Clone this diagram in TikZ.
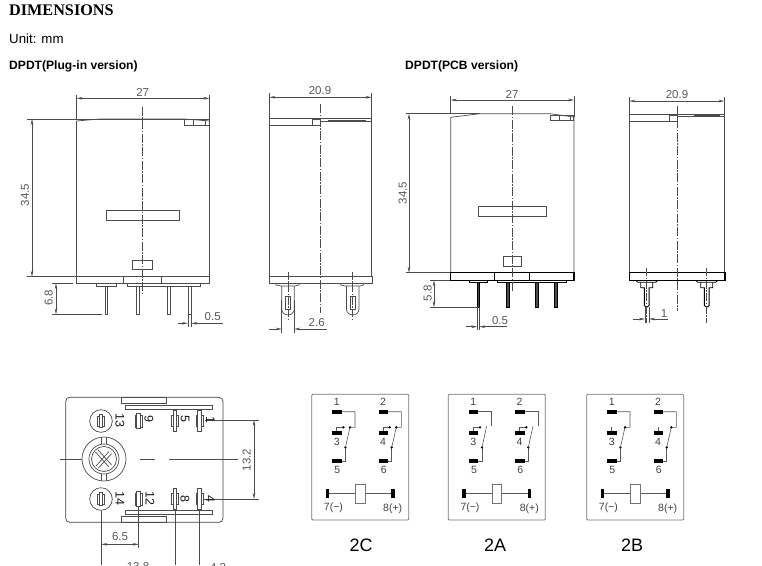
\documentclass[tikz,border=0pt]{standalone}
\usepackage{fontspec}
\setmainfont{Liberation Sans}
\newfontfamily\titlefont{Liberation Serif}
\usetikzlibrary{arrows.meta}
\definecolor{inkline}{gray}{0.3}
\definecolor{dimtext}{gray}{0.35}
\tikzset{
  outline/.style={draw=inkline,line width=0.7pt},
  thickline/.style={draw=black,line width=1.3pt},
  axis/.style={draw=inkline,line width=0.5pt,dash pattern=on 9pt off 1.5pt on 1.5pt off 1.5pt},
  thin line/.style={draw=inkline,line width=0.5pt},
  dimline/.style={draw=black!70,line width=0.6pt,{Stealth[length=6pt,width=2.6pt]}-{Stealth[length=6pt,width=2.6pt]}},
  dimtip/.style={draw=black!70,line width=0.6pt,-{Stealth[length=6pt,width=2.6pt]}},
  dimlabel/.style={text=dimtext,font=\fontsize{11.5}{12}\selectfont,inner sep=0pt},
  termlabel/.style={text=black!90,font=\fontsize{12.5}{13}\selectfont,inner sep=0pt,rotate=-90},
  relaylabel/.style={text=black!75,font=\fontsize{10.5}{11}\selectfont,inner sep=0pt},
  heading/.style={anchor=west,inner sep=0pt,font=\fontsize{12.1}{14}\selectfont\bfseries},
  typelabel/.style={inner sep=0pt,font=\fontsize{18}{20}\selectfont},
  pad/.style={fill=black,draw=none},
  wire/.style={draw=black!65,line width=0.6pt},
  pics/relay/.style={code={
    % #1: 0 = 2C, 1 = 2A, 2 = 2B
    \path[draw=black!55,line width=0.8pt,rounded corners=1pt] (0,0) rectangle (97,125.7);
    \foreach \dx/\top/\mid/\low in {0/1/3/5,46.3/2/4/6}{
      \begin{scope}[xshift=\dx pt]
        \fill[pad] (20.7,15.4) rectangle (30,19.4);
        \fill[pad] (20.7,36.7) rectangle (30,40.7);
        \fill[pad] (20.7,64.7) rectangle (30,68.7);
        \node[relaylabel] at (25,7.3) {\top};
        \node[relaylabel] at (25,48) {\mid};
        \node[relaylabel] at (25.7,75.7) {\low};
        \draw[wire] (33.7,53) -- (33.7,66.7) -- (30,66.7);
        \fill (33.7,53) circle (1.3);
        \ifcase#1
          \draw[wire] (30,17.4) -- (43.3,17.4) -- (43.3,33) -- (38.3,33) -- (33.7,53);
          \draw[wire] (25,36.7) -- (25,33) -- (31.7,33);
          \fill (38.3,33) circle (1.3);
          \fill (31.7,33) circle (1.3);
        \or
          \draw[wire] (30,17.4) -- (43.3,17.4) -- (43.3,32);
          \draw[wire] (38.3,32) -- (33.7,53);
          \draw[wire] (25,36.7) -- (25,33) -- (31.7,33);
          \fill (31.7,33) circle (1.3);
        \or
          \draw[wire] (30,17.4) -- (43.3,17.4) -- (43.3,33) -- (38.3,33) -- (33.7,53);
          \draw[wire] (25,36.7) -- (25,33);
          \fill (38.3,33) circle (1.3);
        \fi
      \end{scope}
    }
    \fill[pad] (14,95) rectangle (17.7,104);
    \fill[pad] (79.3,95) rectangle (83,104);
    \draw[wire] (17.7,99.3) -- (43.7,99.3);
    \draw[wire] (53.3,99.3) -- (79.3,99.3);
    \draw[draw=black!55,line width=0.7pt] (43.7,90) rectangle (53.3,109.3);
    \node[relaylabel] at (21.7,113.3) {7(−)};
    \node[relaylabel] at (81,114.7) {8(+)};
  }},
  pics/blade/.style n args={2}{code={
    % #1: half length of the thin strip, #2: half height of the wide strip
    \draw[thin line,fill=white] (-3.5,-#2) rectangle (3.5,#2);
    \draw[thin line,fill=white] (-1.6,-#1) rectangle (1.6,#1);
  }},
}
\begin{document}
\begin{tikzpicture}[x=1pt,y=-1pt]
  \useasboundingbox (0,0) rectangle (762,565);
  \begin{scope}
    \clip (0,0) rectangle (762,565);
    % headings
    \node[anchor=west,inner sep=0pt,font=\fontsize{16.2}{17}\titlefont\bfseries] (title) at (9,10) {DIMENSIONS};
    \node[anchor=west,inner sep=0pt,font=\fontsize{13.3}{14}\selectfont] (unit) at (9,38.5) {Unit: mm};
    \node[heading] (plugin) at (9,66) {DPDT(Plug-in version)};
    \node[heading] (pcb) at (405,66) {DPDT(PCB version)};

    % plug-in, front
    \draw[outline] (76.5,276.7) -- (76.5,121) -- (100,119) -- (185,119) -- (209.5,121) -- (209.5,276.7);
    \draw[outline] (76.5,119) -- (185,119);
    \draw[outline] (184.7,119.5) rectangle (209.5,125.3);
    \draw[outline] (193.7,120) -- (193.7,125.3) (205.3,120) -- (205.3,125.3);
    \draw[outline] (76.5,276.7) rectangle (209.5,283.3);
    \draw[outline] (123.3,276.7) -- (123.3,283.3) (161.7,276.7) -- (161.7,283.3);
    \draw[outline] (96.7,283.3) rectangle (116.7,286.3);
    \draw[outline] (127.3,283.3) rectangle (200.7,286.3);
    \foreach \xa/\xb in {105.3/107.3,136.7/139.3,167.7/170.3}
      \draw[outline] (\xa,286.3) rectangle (\xb,314.3);
    \draw[outline] (188,286.3) rectangle (191.3,314.3);
    \draw[thin line] (188,314.3) -- (188,326.5) (191.3,314.3) -- (191.3,326.5);
    \draw[outline] (106,210.7) rectangle (179.7,220.3);
    \draw[outline] (132.7,260.3) rectangle (152.7,269.7);
    \draw[axis] (142.7,106.7) -- (142.7,294.7);
    \draw[thin line] (76.5,94.7) -- (76.5,119) (209.5,94.7) -- (209.5,119);
    \draw[dimline] (76.5,98.3) -- (209.5,98.3);
    \node[dimlabel] (w27a) at (142.7,92) {27};
    \draw[thin line] (27.3,119) -- (76.5,119) (27.3,276.7) -- (76.5,276.7);
    \draw[dimline] (32,119) -- (32,276.7);
    \node[dimlabel,rotate=90] (h345a) at (25,195) {34.5};
    \draw[thin line] (51.7,283.3) -- (72.7,283.3) (51.7,314.3) -- (101.7,314.3);
    \draw[dimline] (56,283.3) -- (56,314.3);
    \node[dimlabel,rotate=90] (h68) at (48.7,298) {6.8};
    \draw[dimtip] (177.7,323.3) -- (188,323.3);
    \draw[dimtip] (222.7,323.3) -- (191.3,323.3);
    \node[dimlabel] (p05a) at (212.7,317) {0.5};

    % plug-in, side
    \draw[outline] (269.3,118.7) rectangle (371.7,276.7);
    \draw[outline] (269.3,125.3) -- (320,125.3);
    \draw[outline] (312.7,119.5) rectangle (320,125.3);
    \draw[outline] (320,121) -- (371.7,121);
    \draw[draw=inkline,line width=1pt] (328,120) -- (366,120);
    \draw[outline] (269.3,276.7) rectangle (372.3,283.3);
    \foreach \cx in {288,352.7}{
      \draw[outline] (\cx-12,283.3) -- (\cx-12,285) -- (\cx-7,286) -- (\cx+7,286) -- (\cx+11,285) -- (\cx+11,283.3);
      \draw[outline] (\cx-6.3,286) -- (\cx-6.3,309) arc[start angle=180,end angle=0,x radius=6.3,y radius=6] -- (\cx+6.3,286);
      \draw[outline] (\cx-2.8,296) rectangle (\cx+2.8,309.3);
      \draw[axis,dash pattern=on 8pt off 1.5pt on 1.5pt off 1.5pt] (\cx,271.7) -- (\cx,319.3);
    }
    \draw[axis] (320,104) -- (320,313);
    \draw[thin line] (269.3,93.3) -- (269.3,118.7) (371.7,93.3) -- (371.7,118.7);
    \draw[dimline] (269.3,97.3) -- (371.7,97.3);
    \node[dimlabel] (w209a) at (320,91) {20.9};
    \draw[thin line] (281.7,300) -- (281.7,332.7) (294.3,300) -- (294.3,332.7);
    \draw[dimtip] (269.3,329) -- (281.7,329);
    \draw[dimtip] (326.7,329) -- (294.3,329);
    \node[dimlabel] (p26) at (316.7,323) {2.6};

    % pcb, front
    \draw[outline] (450.7,272.7) -- (450.7,117.3) -- (480,113.7) -- (550,113.7) -- (574,117) -- (574,272.7);
    \draw[thin line] (405.7,113.7) -- (480,113.7) (405.7,272.7) -- (450.7,272.7);
    \draw[outline] (550.3,115) rectangle (573.3,120.7);
    \draw[outline] (559.3,115) -- (559.3,120.7) (570.3,115) -- (570.3,120.7);
    \draw[thickline] (450.7,272.7) rectangle (574,280.3);
    \draw[thickline] (494.7,272.7) -- (494.7,280.3) (529.3,272.7) -- (529.3,280.3);
    \draw[draw=black,line width=1pt] (469,280.3) -- (469,282.3) -- (487.7,282.3) -- (487.7,280.3);
    \draw[draw=black,line width=1pt] (497.3,280.3) -- (497.3,282.3) -- (566.7,282.3) -- (566.7,280.3);
    \foreach \xa/\xb in {477/479.7,506.3/509.7,535.3/538,554.3/557.7}
      \draw[draw=black,fill=inkline,line width=0.6pt] (\xa,282.3) rectangle (\xb,307.3);
    \draw[outline] (478.3,206.7) rectangle (546.7,216.3);
    \draw[outline] (503.3,256.7) rectangle (521.7,266.7);
    \draw[axis] (512.3,106) -- (512.3,291);
    \draw[thin line] (450.7,95.7) -- (450.7,113.7) (574,95.7) -- (574,117);
    \draw[dimline] (450.7,100) -- (574,100);
    \node[dimlabel] (w27b) at (512,94) {27};
    \draw[dimline] (409,113.7) -- (409,272.7);
    \node[dimlabel,rotate=90] (h345b) at (402.7,193) {34.5};
    \draw[thin line] (430,280.3) -- (450,280.3) (430,307.3) -- (476.7,307.3);
    \draw[dimline] (434,280.3) -- (434,307.3);
    \node[dimlabel,rotate=90] (h58) at (427.7,293.3) {5.8};
    \draw[thin line] (477.3,307.3) -- (477.3,330) (479.3,307.3) -- (479.3,330);
    \draw[dimtip] (466.3,326.7) -- (477.3,326.7);
    \draw[dimtip] (506.7,326.7) -- (479.3,326.7);
    \node[dimlabel] (p05b) at (500,320.7) {0.5};

    % pcb, side
    \draw[outline] (629.3,114) rectangle (724.3,272.7);
    \draw[outline] (629.3,121) -- (677.3,121);
    \draw[outline] (669,115) rectangle (677.3,121);
    \draw[outline] (677.3,116) -- (724.3,116);
    \draw[draw=inkline,line width=1pt] (694,115.3) -- (720,115.3);
    \draw[thickline] (629.3,272.7) rectangle (725,280.3);
    \foreach \cx in {646.7,706.7}{
      \draw[draw=black,line width=0.8pt] (\cx-11,280.3) -- (\cx-9,282.3) -- (\cx+9,282.3) -- (\cx+11,280.3);
      \draw[draw=black,line width=0.9pt] (\cx-6,282.3) -- (\cx-6,287.7) -- (\cx-2.4,287.7) -- (\cx-2.4,305.5) -- (\cx,307.3) -- (\cx+2.4,305.5) -- (\cx+2.4,287.7) -- (\cx+6,287.7) -- (\cx+6,282.3);
      \draw[axis,dash pattern=on 8pt off 1.5pt on 1.5pt off 1.5pt] (\cx,268.3) -- (\cx,322.7);
    }
    \draw[axis] (677.3,105.7) -- (677.3,311);
    \draw[thin line] (629.3,97.3) -- (629.3,114) (724.3,97.3) -- (724.3,114);
    \draw[dimline] (629.3,101) -- (724.3,101);
    \node[dimlabel] (w209b) at (677,94.7) {20.9};
    \draw[thin line] (645,307.3) -- (645,322.7) (649,307.3) -- (649,322.7);
    \draw[dimtip] (633.3,319) -- (645,319);
    \draw[dimtip] (668.3,319) -- (649,319);
    \node[dimlabel] (p1) at (664,313.3) {1};

    % bottom view
    \draw[draw=black!75,line width=0.7pt,rounded corners=4pt] (65.7,397.3) rectangle (223,522.3);
    \draw[outline] (121.3,397.3) rectangle (166.7,403.3);
    \draw[outline] (125.3,405.3) rectangle (212.7,409.3);
    \draw[outline] (125.3,510.3) rectangle (212.7,514);
    \draw[outline] (121.3,516.3) rectangle (166.7,522.3);
    \draw[outline] (101,421) circle (11.3);
    \draw[outline] (101,499) circle (11.3);
    \draw[outline] (104,459) circle (22);
    \draw[outline] (104,459) circle (15);
    \draw[outline] (104,459) circle (12.5);
    \draw[outline] (101.5,437) -- (101.5,444.2) (106.5,437) -- (106.5,444.2);
    \draw[outline] (101.5,473.8) -- (101.5,481) (106.5,473.8) -- (106.5,481);
    \draw[outline] (95.5,452) -- (109,467) (97.8,449.8) -- (111.5,464.8);
    \draw[outline] (96,466) -- (109,451.5) (98.5,468) -- (111.5,453.7);
    \pic at (101,421) {blade={6.5}{5}};
    \pic at (101,499) {blade={6.5}{5}};
    \pic at (138.3,421) {blade={7.5}{6}};
    \pic at (138.3,499) {blade={7.5}{6}};
    \pic at (174.7,420.5) {blade={10.5}{5.5}};
    \pic at (174.7,499) {blade={10.5}{5.5}};
    \pic at (199.3,420.5) {blade={10.5}{5.5}};
    \pic at (199.3,499) {blade={10.5}{5.5}};
    \draw[thin line] (60,459) -- (82,459) (140,459) -- (155,459) (169.3,459) -- (238.3,459);
    \draw[thin line] (205,420) -- (259.3,420) (204,499) -- (259.3,499);
    \draw[dimline] (254,420) -- (254,499);
    \node[termlabel] (t13) at (120,420) {13};
    \node[termlabel] (t9) at (149,419) {9};
    \node[termlabel] (t5) at (185,419) {5};
    \node[termlabel] (t1) at (210.5,420) {1};
    \node[termlabel] (t14) at (120,498.5) {14};
    \node[termlabel] (t12) at (150,498.5) {12};
    \node[termlabel] (t8) at (185,498.5) {8};
    \node[termlabel] (t4) at (210.5,499) {4};
    \node[dimlabel,rotate=90] (h132) at (246.7,460) {13.2};
    \draw[thin line] (101.3,511) -- (101.3,565) (138.7,506.7) -- (138.7,548);
    \draw[thin line] (175,510) -- (175,565) (199.7,510) -- (199.7,565);
    \draw[dimline] (101.3,544.3) -- (138.7,544.3);
    \node[dimlabel] (d65) at (120,536.7) {6.5};
    \node[dimlabel] (d138) at (138,567) {13.8};
    \node[dimlabel] (d42) at (218,567) {4.2};

    % relay schemes
    \pic at (311.7,394.3) {relay=0};
    \pic at (448.3,394.3) {relay=1};
    \pic at (586.7,394.3) {relay=2};
    \node[typelabel] (type2c) at (361,545) {2C};
    \node[typelabel] (type2a) at (495,545) {2A};
    \node[typelabel] (type2b) at (632,545) {2B};
  \end{scope}
\end{tikzpicture}
\end{document}
